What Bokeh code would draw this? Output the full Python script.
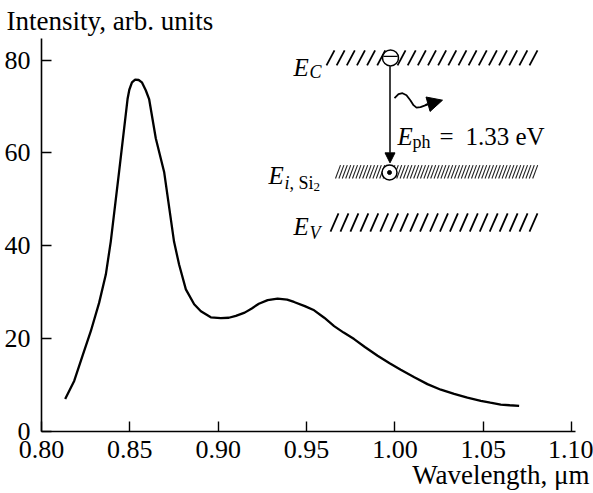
import numpy as np
from bokeh.plotting import figure
from bokeh.models import (Range1d, FixedTicker, PrintfTickFormatter, Label,
                          Arrow, NormalHead, Title)
from bokeh.embed import file_html
from bokeh.resources import INLINE

# ---- data ----
wavelength = [0.8134, 0.8185, 0.8232, 0.8279, 0.8326, 0.8364, 0.8392, 0.8439,
              0.8487, 0.8497, 0.8512, 0.8530, 0.8550, 0.8568, 0.8590, 0.8609,
              0.8647, 0.8694, 0.8750, 0.8779, 0.8817, 0.8864, 0.8902, 0.8958,
              0.9015, 0.9060, 0.9100, 0.9150, 0.9190, 0.9230, 0.9280, 0.9336,
              0.9390, 0.9429, 0.9490, 0.9543, 0.9600, 0.9656, 0.9710, 0.9769,
              0.9830, 0.9902, 0.9970, 1.0033, 1.0110, 1.0184, 1.0260, 1.0335,
              1.0410, 1.0486, 1.0540, 1.0599, 1.0650, 1.0703]
intensity = [7.0, 10.9, 16.3, 21.6, 27.7, 33.8, 40.9, 55.9,
             71.6, 73.6, 75.2, 75.8, 75.7, 75.2, 73.5, 71.6,
             63.1, 55.9, 40.9, 35.9, 30.6, 27.4, 25.9, 24.6,
             24.4, 24.5, 24.9, 25.6, 26.5, 27.5, 28.3, 28.6,
             28.4, 27.9, 27.0, 26.1, 24.5, 22.7, 21.3, 19.9,
             18.2, 16.3, 14.7, 13.3, 11.7, 10.2, 9.0, 8.1,
             7.3, 6.6, 6.2, 5.8, 5.65, 5.5]
x_ticks = [0.80, 0.85, 0.90, 0.95, 1.00, 1.05, 1.10]
y_ticks = [0, 20, 40, 60, 80]
x_title = "Wavelength, μm"
y_title = "Intensity, arb. units"

# ---- layout ----
W, H = 593, 493
BL, BR, BT, BB = 41, 18, 36, 62
X0, X1 = 0.80, 1.1022
Y0, Y1 = 0.0, 84.64
FONT = "Liberation Serif"

p = figure(width=W, height=H, x_range=Range1d(X0, X1), y_range=Range1d(Y0, Y1),
           output_backend="svg", toolbar_location=None,
           min_border_left=BL, min_border_right=BR, min_border_top=BT,
           min_border_bottom=BB)
p.outline_line_color = None
p.grid.visible = False
p.background_fill_color = "white"
p.border_fill_color = "white"

for ax in (p.xaxis[0], p.yaxis[0]):
    ax.axis_line_width = 1.6
    ax.axis_line_color = "black"
    ax.major_tick_line_width = 1.4
    ax.major_tick_line_color = "black"
    ax.major_tick_in = 10
    ax.major_tick_out = 0
    ax.minor_tick_line_color = None
    ax.major_label_text_font = FONT
    ax.major_label_text_font_size = "26px"
    ax.major_label_text_color = "black"

p.xaxis.ticker = FixedTicker(ticks=x_ticks)
p.xaxis.formatter = PrintfTickFormatter(format="%.2f")
p.xaxis.major_label_standoff = 9
p.yaxis.ticker = FixedTicker(ticks=y_ticks)
p.yaxis.formatter = PrintfTickFormatter(format="%d")
p.yaxis.major_label_standoff = 11

# axis titles as plot titles (outside the frame)
p.title = Title(text=y_title, align="left", text_font=FONT,
                text_font_size="27px", text_font_style="normal",
                text_color="black", standoff=6, offset=-35)
p.add_layout(Title(text=x_title, align="right", text_font=FONT,
                   text_font_size="27px", text_font_style="normal",
                   text_color="black", standoff=-6, offset=-14), "below")

p.line(wavelength, intensity, line_color="black", line_width=2.3)

# helpers: reference-image pixel position -> data coordinates (layout only)
FL, FR, FT, FB = BL, W - BR, BT, H - BB


def fx(px):
    return X0 + (np.asarray(px, dtype=float) - FL) / (FR - FL) * (X1 - X0)


def fy(py):
    return Y0 + (FB - np.asarray(py, dtype=float)) / (FB - FT) * (Y1 - Y0)


def lab(text, px, py, size="25px", style="normal", align="left"):
    p.add_layout(Label(x=float(fx(px)), y=float(fy(py)), text=text,
                       text_font=FONT, text_font_size=size,
                       text_font_style=style, text_align=align,
                       text_baseline="alphabetic", text_color="black"))


# ---- inset band diagram ----
# E_C hatched level
xs = np.linspace(326, 529, 21)
xs = xs[np.abs(xs + 4 - 390) > 9]
p.segment(x0=fx(xs), y0=fy(np.full_like(xs, 63.0)), x1=fx(xs + 8),
          y1=fy(np.full_like(xs, 48.0)), line_color="black", line_width=1.8)
# E_V hatched level
xs = np.linspace(330, 529, 21)
p.segment(x0=fx(xs), y0=fy(np.full_like(xs, 230.0)), x1=fx(xs + 8),
          y1=fy(np.full_like(xs, 211.7)), line_color="black", line_width=1.8)
# E_i band (dense hatching)
xs = np.arange(335, 533, 3.4)
p.segment(x0=fx(xs), y0=fy(np.full_like(xs, 176.7)), x1=fx(xs + 5),
          y1=fy(np.full_like(xs, 163.3)), line_color="#222222", line_width=1.1)

# electron (minus) at E_C
p.scatter(x=[float(fx(390))], y=[float(fy(55.5))], size=16, marker="circle",
          fill_color="white", line_color="black", line_width=1.5)
p.segment(x0=[float(fx(383))], y0=[float(fy(54))], x1=[float(fx(397))],
          y1=[float(fy(54))], line_color="black", line_width=1.4)
# dotted circle at E_i
p.scatter(x=[float(fx(389))], y=[float(fy(170.7))], size=15, marker="circle",
          fill_color="white", line_color="black", line_width=1.5)
p.scatter(x=[float(fx(389))], y=[float(fy(170.7))], size=4, marker="circle",
          fill_color="black", line_color="black")

# vertical transition arrow
p.add_layout(Arrow(x_start=float(fx(389.5)), y_start=float(fy(64)),
                   x_end=float(fx(389.5)), y_end=float(fy(161)),
                   line_color="black", line_width=1.5,
                   end=NormalHead(size=10, fill_color="black", line_color="black")))

# photon wave
wx = [394, 398, 402, 406, 410, 413, 416, 420, 424, 427]
wy = [96, 92, 91, 93, 98.3, 103, 105.5, 105, 103.5, 102.2]
p.line(fx(wx), fy(wy), line_color="black", line_width=1.8)
p.add_layout(Arrow(x_start=float(fx(425)), y_start=float(fy(102.8)),
                   x_end=float(fx(442)), y_end=float(fy(98)),
                   line_color="black", line_width=1.8,
                   end=NormalHead(size=15, fill_color="black", line_color="black")))

# level labels
lab("E", 293, 65, style="italic")
lab("C", 309, 70, "18px", style="italic")
lab("E", 268, 174, style="italic")
lab("i", 284, 181, "18px", style="italic")
lab(", Si", 289, 181, "18px")
lab("2", 313, 185, "13px")
lab("E", 293, 225, style="italic")
lab("V", 309, 231, "18px", style="italic")
lab("E", 397, 135, style="italic")
lab("ph", 412, 140, "18px")
lab("=", 439, 135)
lab("1.33 eV", 465, 135)

open("out.html", "w").write(file_html(p, INLINE))
